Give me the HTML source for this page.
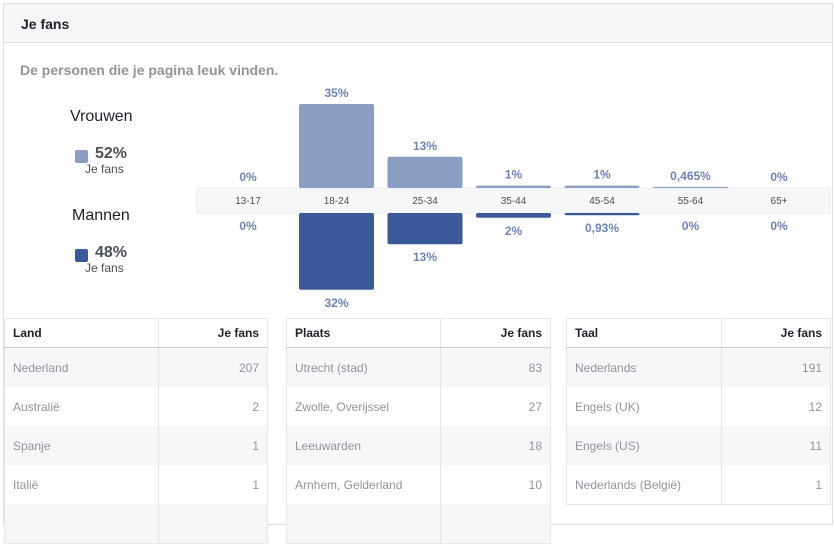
<!DOCTYPE html>
<html><head><meta charset="utf-8"><style>
body{margin:0;width:834px;height:517px;overflow:hidden;background:#fff;font-family:"Liberation Sans",sans-serif;position:relative}
.card{position:absolute;left:3px;top:3px;width:828px;height:520px;border:1px solid #dddfe2;background:#fff}
.hdr{position:absolute;left:0;top:0;width:828px;height:38px;background:#f6f7f9;border-bottom:1px solid #dddfe2}
.hdr span{position:absolute;left:17px;top:12px;font-size:14px;font-weight:bold;color:#1d2129}
.sub{position:absolute;left:20px;top:62px;font-size:14px;font-weight:bold;color:#90949c}
.abs{position:absolute}
table{position:absolute;top:318px;border-collapse:collapse;font-size:12px;border:1px solid #e5e6e9}
td,th{height:39px;padding:0 8px;border-left:1px solid #e5e6e9}
th{height:28px;color:#1d2129;font-weight:bold;text-align:left;border-bottom:1px solid #ccd0d5}
td{color:#90949c}
.r{text-align:right}
tr.g td{background:#f6f7f9}
</style></head><body>
<div class="card">
<div class="hdr"><span>Je fans</span></div>
</div>
<div class="sub">De personen die je pagina leuk vinden.</div>
<div class="abs" style="left:70px;top:108px;font-size:16px;color:#1d2129">Vrouwen</div>
<div class="abs" style="left:75px;top:150px;width:13px;height:13px;background:#8b9dc3;border-radius:2px"></div>
<div class="abs" style="left:95px;top:145px;font-size:16px;font-weight:bold;color:#4b4f56">52%</div>
<div class="abs" style="left:85px;top:162px;font-size:12px;color:#4b4f56">Je fans</div>
<div class="abs" style="left:72px;top:207px;font-size:16px;color:#1d2129">Mannen</div>
<div class="abs" style="left:75px;top:249px;width:13px;height:13px;background:#3b5998;border-radius:2px"></div>
<div class="abs" style="left:95px;top:244px;font-size:16px;font-weight:bold;color:#4b4f56">48%</div>
<div class="abs" style="left:85px;top:261px;font-size:12px;color:#4b4f56">Je fans</div>
<svg class="abs" style="left:0;top:0" width="834" height="317" id="chart">
<rect x="197" y="188" width="633" height="25" fill="#f6f7f9" stroke="#e9ebee"/>
</svg>
<script>
const categories=["13-17","18-24","25-34","35-44","45-54","55-64","65+"];
const women=[0,35,13,1,1,0.465,0];
const men=[0,32,13,2,0.93,0,0];
const womenLabels=["0%","35%","13%","1%","1%","0,465%","0%"];
const menLabels=["0%","32%","13%","2%","0,93%","0%","0%"];
const svg=document.getElementById('chart');const NS="http://www.w3.org/2000/svg";
const x=i=>248+i*88.5;const h=v=>v*2.4;const TOP=188,BOT=213;
function mk(t,a){const e=document.createElementNS(NS,t);for(const k in a)e.setAttribute(k,a[k]);svg.appendChild(e);return e;}
categories.forEach((c,i)=>{
 const hw=h(women[i]);
 if(hw>0){const r=mk('rect',{x:x(i)-37.5,y:TOP-hw,width:75,height:hw,rx:2,fill:'#8b9dc3'});
 
 }
 const hm=h(men[i]);
 if(hm>0){const r=mk('rect',{x:x(i)-37.5,y:BOT,width:75,height:hm,rx:2,fill:'#3b5998'});
 
 }
 const t1=mk('text',{x:x(i),y:TOP-hw-7,'text-anchor':'middle','font-size':12,'font-weight':'bold',fill:'#6d84b4'});t1.textContent=womenLabels[i];
 
 
 const t2=mk('text',{x:x(i),y:BOT+hm+17,'text-anchor':'middle','font-size':12,'font-weight':'bold',fill:'#6d84b4'});t2.textContent=menLabels[i];
 
 
 const t3=mk('text',{x:x(i),y:204,'text-anchor':'middle','font-size':10,fill:'#4b4f56'});t3.textContent=c;
 
 
});
</script>
<table style="left:4px;width:264px">
<tr><th style="width:137px">Land</th><th class="r">Je fans</th></tr>
<tr class="g"><td>Nederland</td><td class="r">207</td></tr>
<tr><td>Australië</td><td class="r">2</td></tr>
<tr class="g"><td>Spanje</td><td class="r">1</td></tr>
<tr><td>Italië</td><td class="r">1</td></tr>
<tr class="g"><td></td><td></td></tr>
</table>
<table style="left:286px;width:265px">
<tr><th style="width:137px">Plaats</th><th class="r">Je fans</th></tr>
<tr class="g"><td>Utrecht (stad)</td><td class="r">83</td></tr>
<tr><td>Zwolle, Overijssel</td><td class="r">27</td></tr>
<tr class="g"><td>Leeuwarden</td><td class="r">18</td></tr>
<tr><td>Arnhem, Gelderland</td><td class="r">10</td></tr>
<tr class="g"><td></td><td></td></tr>
</table>
<table style="left:566px;width:265px">
<tr><th style="width:138px">Taal</th><th class="r">Je fans</th></tr>
<tr class="g"><td>Nederlands</td><td class="r">191</td></tr>
<tr><td>Engels (UK)</td><td class="r">12</td></tr>
<tr class="g"><td>Engels (US)</td><td class="r">11</td></tr>
<tr><td>Nederlands (België)</td><td class="r">1</td></tr>
</table>
</body></html>
